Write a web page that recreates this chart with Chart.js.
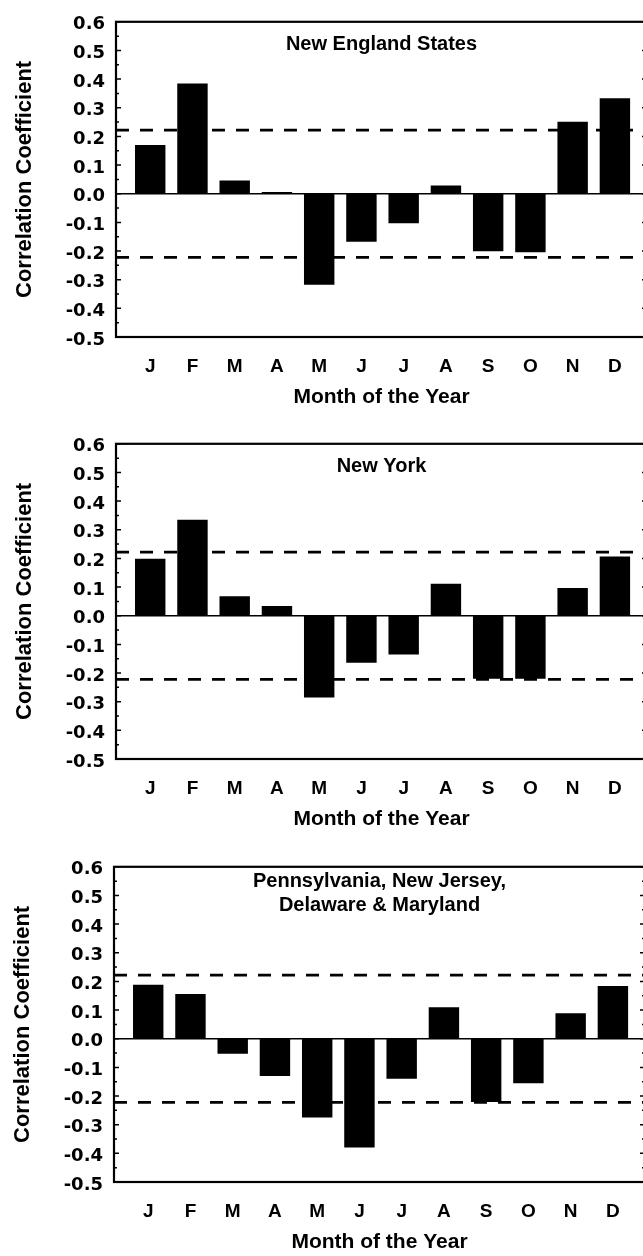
<!DOCTYPE html>
<html>
<head>
<meta charset="utf-8">
<script src="https://cdn.jsdelivr.net/npm/chart.js@4.4.1/dist/chart.umd.min.js"></script>
<style>
  html, body { margin: 0; padding: 0; background: #fff; overflow: hidden; width: 643px; height: 1256px; }
  .panel { position: absolute; }
</style>
</head>
<body>
<canvas id="panel0" class="panel" width="660" height="430" style="left:0px;top:0px"></canvas>
<canvas id="panel1" class="panel" width="660" height="430" style="left:0px;top:422px"></canvas>
<canvas id="panel2" class="panel" width="660" height="430" style="left:-2px;top:845px"></canvas>
<script>
// Month labels along the x axis
const months = ['J', 'F', 'M', 'A', 'M', 'J', 'J', 'A', 'S', 'O', 'N', 'D'];

// Y axis tick values (correlation coefficient)
const yTickValues = [-0.5, -0.4, -0.3, -0.2, -0.1, 0.0, 0.1, 0.2, 0.3, 0.4, 0.5, 0.6];

// Monthly correlation coefficients by region
const newEngland  = [0.170, 0.385, 0.046, 0.006, -0.318, -0.168, -0.103, 0.029, -0.201, -0.204, 0.251, 0.333];
const newYork     = [0.199, 0.335, 0.068, 0.034, -0.285, -0.164, -0.135, 0.112, -0.220, -0.220, 0.097, 0.207];
const midAtlantic = [0.188, 0.156, -0.052, -0.130, -0.275, -0.380, -0.140, 0.110, -0.221, -0.155, 0.089, 0.184];

// Significance bounds drawn as dashed lines
const criticalR = [0.222, -0.222];

// Region captions inside each plot
const regionNames = [
  ['New England States'],
  ['New York'],
  ['Pennsylvania, New Jersey,', 'Delaware & Maryland']
];

const FONT = "'Liberation Sans', Arial, Helvetica, sans-serif";
const NUM_FONT = "'DejaVu Sans', 'Liberation Sans', sans-serif";
Chart.defaults.font.family = FONT;
Chart.defaults.color = '#000';

// Frame, zero line, inward tick marks, significance lines and region caption
const panelDecor = {
  id: 'panelDecor',
  beforeDatasetsDraw(chart) {
    const { ctx, chartArea: a, scales: { y } } = chart;
    const y0 = y.getPixelForValue(0);
    ctx.save();
    ctx.strokeStyle = '#000';
    ctx.lineWidth = 1.6;
    ctx.beginPath();
    ctx.moveTo(a.left, y0);
    ctx.lineTo(a.right, y0);
    ctx.stroke();
    ctx.restore();
  },
  afterDatasetsDraw(chart, args, opts) {
    const { ctx, chartArea: a, scales: { y } } = chart;
    ctx.save();
    ctx.strokeStyle = '#000';

    // dashed significance lines
    ctx.lineWidth = 2.6;
    ctx.setLineDash([13, 11]);
    criticalR.forEach(r => {
      const py = y.getPixelForValue(r);
      ctx.beginPath();
      ctx.moveTo(a.left, py);
      ctx.lineTo(a.right, py);
      ctx.stroke();
    });
    ctx.setLineDash([]);

    // inward tick marks on both vertical sides
    ctx.lineWidth = 1.5;
    for (let i = 0; i < yTickValues.length; i++) {
      const v = yTickValues[i];
      const py = y.getPixelForValue(v);
      ctx.beginPath();
      ctx.moveTo(a.left, py); ctx.lineTo(a.left + 5, py);
      ctx.moveTo(a.right, py); ctx.lineTo(a.right - 5, py);
      ctx.stroke();
      if (i < yTickValues.length - 1) {
        const pm = y.getPixelForValue((v + yTickValues[i + 1]) / 2);
        ctx.beginPath();
        ctx.moveTo(a.left, pm); ctx.lineTo(a.left + 3, pm);
        ctx.moveTo(a.right, pm); ctx.lineTo(a.right - 3, pm);
        ctx.stroke();
      }
    }

    // plot frame
    ctx.lineWidth = 2.2;
    ctx.strokeRect(a.left, a.top, a.right - a.left, a.bottom - a.top);

    // region caption
    const lines = opts.lines || [];
    ctx.fillStyle = '#000';
    ctx.font = 'bold 20px ' + FONT;
    ctx.textAlign = 'center';
    ctx.textBaseline = 'middle';
    const cx = (a.left + a.right) / 2;
    const startY = lines.length > 1 ? a.top + 15 : a.top + 23;
    lines.forEach((t, k) => ctx.fillText(t, cx, startY + k * 24));
    ctx.restore();
  }
};

function makePanel(canvasId, values, lines) {
  return new Chart(document.getElementById(canvasId), {
    type: 'bar',
    data: {
      datasets: [{
        data: values.map((v, i) => ({ x: i + 1, y: v })),
        backgroundColor: '#000',
        borderWidth: 0,
        barPercentage: 0.72,
        categoryPercentage: 1.0
      }]
    },
    options: {
      responsive: false,
      animation: false,
      devicePixelRatio: 1,
      layout: { padding: { top: 20, right: 13, bottom: 0, left: 0 } },
      plugins: {
        legend: { display: false },
        tooltip: { enabled: false },
        panelDecor: { lines: lines }
      },
      scales: {
        x: {
          type: 'linear',
          min: 0.19,
          max: 12.76,
          offset: false,
          grid: { display: false, drawTicks: false },
          border: { display: false },
          afterBuildTicks: s => { s.ticks = months.map((m, i) => ({ value: i + 1 })); },
          afterFit: s => { s.height = 93; },
          ticks: {
            autoSkip: false,
            maxRotation: 0,
            padding: 18.6,
            color: '#000',
            font: { size: 19, weight: 'bold' },
            callback: v => months[Math.round(v) - 1]
          },
          title: {
            display: true,
            text: 'Month of the Year',
            color: '#000',
            font: { size: 21, weight: 'bold' },
            padding: { top: 0, bottom: 20.4 }
          }
        },
        y: {
          min: -0.5,
          max: 0.6,
          grid: { display: false, drawTicks: false },
          border: { display: false },
          afterBuildTicks: s => { s.ticks = yTickValues.map(v => ({ value: v })); },
          afterFit: s => { s.width = 116; },
          ticks: {
            padding: 11,
            labelOffset: 3,
            color: '#000',
            font: { family: NUM_FONT, size: 18, weight: 'bold' },
            callback: v => v.toFixed(1)
          },
          title: {
            display: true,
            text: 'Correlation Coefficient',
            color: '#000',
            font: { size: 22, weight: 'bold' },
            padding: { top: 11.3, bottom: 0 }
          }
        }
      }
    },
    plugins: [panelDecor]
  });
}

makePanel('panel0', newEngland, regionNames[0]);
makePanel('panel1', newYork, regionNames[1]);
makePanel('panel2', midAtlantic, regionNames[2]);
</script>
</body>
</html>
